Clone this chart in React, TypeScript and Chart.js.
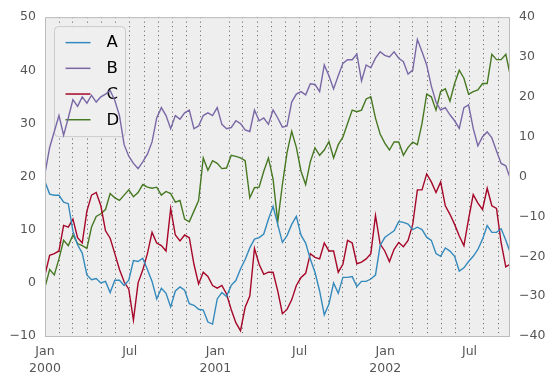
import React, { useEffect, useRef } from 'react';
import { Chart, registerables } from 'chart.js';

Chart.register(...registerables);

// Day offsets from 2000-01-01 (sampled every 10 days, last point = day 999)
const DAYS: number[] = [
  0, 10, 20, 30, 40, 50, 60, 70, 80, 90,
  100, 110, 120, 130, 140, 150, 160, 170, 180, 190,
  200, 210, 220, 230, 240, 250, 260, 270, 280, 290,
  300, 310, 320, 330, 340, 350, 360, 370, 380, 390,
  400, 410, 420, 430, 440, 450, 460, 470, 480, 490,
  500, 510, 520, 530, 540, 550, 560, 570, 580, 590,
  600, 610, 620, 630, 640, 650, 660, 670, 680, 690,
  700, 710, 720, 730, 740, 750, 760, 770, 780, 790,
  800, 810, 820, 830, 840, 850, 860, 870, 880, 890,
  900, 910, 920, 930, 940, 950, 960, 970, 980, 990,
  999,
];

// Series A (right axis)
const SERIES_A: number[] = [
  -1.3, -4.4, -4.7, -4.7, -6.4, -6.8, -13.7, -17.1, -19.2, -24.7,
  -25.9, -25.6, -26.7, -26.3, -29.1, -26.0, -26.0, -27.3, -26.0, -21.1,
  -21.3, -20.5, -23.3, -26.3, -30.7, -28.0, -29.3, -32.7, -28.7, -27.7,
  -28.5, -31.9, -32.3, -33.3, -33.5, -36.5, -37.0, -30.7, -29.1, -30.1,
  -27.3, -26.1, -23.2, -20.8, -17.9, -15.7, -15.3, -14.4, -10.7, -7.5,
  -12.0, -16.5, -14.8, -12.0, -10.0, -14.7, -16.7, -20.7, -24.0, -28.7,
  -34.7, -32.0, -26.7, -29.3, -25.3, -25.3, -25.1, -27.6, -26.3, -26.3,
  -25.7, -24.7, -17.3, -15.3, -14.4, -13.6, -11.3, -11.5, -11.9, -13.3,
  -12.7, -13.3, -15.2, -16.0, -19.3, -20.0, -17.9, -18.7, -20.0, -23.7,
  -22.9, -21.3, -20.0, -18.3, -15.7, -12.3, -14.0, -14.0, -13.1, -16.0,
  -18.9,
];

// Series B (right axis)
const SERIES_B: number[] = [
  0.8, 7.3, 11.3, 15.3, 10.4, 14.7, 19.3, 17.6, 20.0, 18.4,
  20.4, 18.7, 20.0, 20.7, 21.6, 19.1, 15.3, 8.0, 5.1, 3.3,
  2.0, 3.7, 5.6, 8.7, 14.7, 17.3, 15.3, 12.0, 15.3, 14.4,
  16.0, 16.7, 12.0, 12.7, 15.3, 16.0, 15.3, 17.3, 13.1, 12.0,
  12.3, 14.0, 13.3, 11.7, 11.3, 16.7, 14.0, 14.7, 13.1, 16.7,
  14.7, 12.4, 12.7, 18.7, 20.7, 21.3, 20.5, 23.3, 23.1, 21.3,
  28.0, 25.3, 22.0, 25.3, 28.4, 29.3, 29.3, 30.7, 24.0, 28.0,
  27.3, 29.7, 31.3, 30.4, 30.0, 31.3, 29.7, 28.8, 25.7, 26.7,
  34.4, 31.3, 28.0, 22.7, 18.7, 16.7, 17.3, 15.5, 14.0, 12.1,
  17.3, 18.0, 12.1, 7.7, 10.0, 11.2, 9.7, 6.4, 3.3, 2.7,
  -0.3,
];

// Series C (left axis)
const SERIES_C: number[] = [
  1.5, 5.2, 5.5, 6.0, 10.8, 10.5, 12.0, 8.5, 7.5, 13.5,
  16.5, 17.0, 14.5, 9.8, 8.4, 5.5, 2.5, 0.2, -1.2, -7.0,
  0.0, 2.4, 5.5, 9.5, 7.5, 7.0, 6.0, 14.0, 9.0, 7.9,
  9.0, 8.5, 3.5, -0.2, 2.0, 1.2, -0.5, -1.0, -0.5, -2.1,
  -5.0, -7.5, -9.0, -4.6, -2.5, 6.5, 3.5, 1.6, 2.0, 2.0,
  -1.5, -5.8, -5.0, -3.2, -0.5, 1.0, 1.8, 5.5, 4.8, 4.5,
  7.5, 6.0, 6.0, 2.0, 3.5, 8.0, 7.5, 3.6, 3.9, 4.5,
  5.5, 12.7, 7.3, 6.0, 4.0, 6.3, 7.6, 6.8, 8.0, 11.0,
  17.5, 17.5, 20.5, 19.0, 17.0, 19.0, 14.5, 12.9, 11.0, 8.8,
  7.0, 12.0, 16.6, 15.0, 13.8, 17.8, 14.5, 14.0, 7.5, 3.0,
  3.5,
];

// Series D (left axis)
const SERIES_D: number[] = [
  -0.8, 2.5, 1.5, 4.5, 8.0, 7.0, 9.0, 7.4, 7.0, 6.5,
  10.5, 12.5, 13.0, 13.8, 16.8, 16.0, 15.5, 16.5, 17.5, 16.2,
  17.0, 18.5, 18.0, 17.8, 18.0, 16.5, 17.2, 16.8, 15.2, 15.5,
  12.0, 11.5, 13.5, 15.5, 23.5, 21.2, 23.0, 22.5, 21.5, 21.6,
  24.0, 23.8, 23.5, 23.0, 16.0, 17.9, 18.0, 21.0, 23.5, 19.5,
  11.5, 18.5, 24.5, 28.5, 25.5, 21.0, 18.5, 22.8, 25.4, 24.0,
  25.0, 26.6, 23.5, 26.0, 27.4, 30.0, 32.5, 32.2, 32.5, 34.6,
  35.0, 31.0, 28.0, 26.3, 25.0, 26.5, 26.5, 24.0, 25.5, 26.5,
  26.0, 30.0, 35.5, 35.0, 32.5, 36.0, 36.5, 34.2, 37.5, 40.0,
  38.5, 35.5, 36.0, 36.3, 37.5, 37.5, 43.0, 42.0, 42.0, 43.0,
  39.3,
];

const SERIES_NAMES = ['A', 'B', 'C', 'D'];
const SERIES_COLORS = ['#348ABD', '#7A68A6', '#A60628', '#467821'];

// Month starts (Jan 2000 .. Sep 2002) and labelled major months
const MONTH_COUNT = 33;
const LABELLED_MONTHS: { [month: number]: string | string[] } = {
  0: ['Jan', '2000'],
  6: 'Jul',
  12: ['Jan', '2001'],
  18: 'Jul',
  24: ['Jan', '2002'],
  30: 'Jul',
};

const FONT = 'DejaVu Sans';

function monthDay(m: number): number {
  return Math.round((Date.UTC(2000, m, 1) - Date.UTC(2000, 0, 1)) / 86400000);
}

const MONTH_TICKS: number[] = Array.from({ length: MONTH_COUNT }, (_, m) => monthDay(m));
const JAN_TICKS = new Set(MONTH_TICKS.filter((_, m) => m % 12 === 0));
const TICK_LABELS = new Map<number, string | string[]>();
Object.keys(LABELLED_MONTHS).forEach((k) => {
  const m = Number(k);
  TICK_LABELS.set(monthDay(m), LABELLED_MONTHS[m]);
});

function fmt(v: number): string {
  return v < 0 ? '\u2212' + Math.abs(v) : String(v);
}

const bgPlugin = {
  id: 'plotBg',
  beforeDraw(chart: any) {
    const { ctx, chartArea: a } = chart;
    ctx.save();
    ctx.fillStyle = '#EEEEEE';
    ctx.fillRect(a.left, a.top, a.right - a.left, a.bottom - a.top);
    ctx.restore();
  },
  afterDatasetsDraw(chart: any) {
    const { ctx, chartArea: a } = chart;
    ctx.save();
    ctx.strokeStyle = '#BCBCBC';
    ctx.lineWidth = 1;
    ctx.strokeRect(a.left + 0.5, a.top + 0.5, a.right - a.left - 1, a.bottom - a.top);
    ctx.restore();
  },
};

const legendPlugin = {
  id: 'boxLegend',
  beforeDatasetsDraw(chart: any) {
    const { ctx, chartArea: a } = chart;
    const x0 = a.left + 9.5;
    const y0 = a.top + 9.5;
    const w = 71;
    const h = 110;
    const r = 4;
    ctx.save();
    ctx.beginPath();
    ctx.moveTo(x0 + r, y0);
    ctx.lineTo(x0 + w - r, y0);
    ctx.arcTo(x0 + w, y0, x0 + w, y0 + r, r);
    ctx.lineTo(x0 + w, y0 + h - r);
    ctx.arcTo(x0 + w, y0 + h, x0 + w - r, y0 + h, r);
    ctx.lineTo(x0 + r, y0 + h);
    ctx.arcTo(x0, y0 + h, x0, y0 + h - r, r);
    ctx.lineTo(x0, y0 + r);
    ctx.arcTo(x0, y0, x0 + r, y0, r);
    ctx.closePath();
    ctx.fillStyle = '#EFEFEF';
    ctx.fill();
    ctx.strokeStyle = '#CCCCCC';
    ctx.lineWidth = 1;
    ctx.stroke();
    chart.data.datasets.forEach((ds: any, i: number) => {
      const y = y0 + 16 + i * 25.7;
      ctx.beginPath();
      ctx.moveTo(x0 + 11, y);
      ctx.lineTo(x0 + 36, y);
      ctx.strokeStyle = ds.borderColor;
      ctx.lineWidth = 1.5;
      ctx.stroke();
      ctx.fillStyle = '#000000';
      ctx.font = `16.5px "${FONT}"`;
      ctx.textBaseline = 'middle';
      ctx.textAlign = 'left';
      ctx.fillText(ds.label, x0 + 52, y + 0.5);
    });
    ctx.restore();
  },
};

export default function App() {
  const canvasRef = useRef<HTMLCanvasElement | null>(null);

  useEffect(() => {
    document.body.style.margin = '0';
    const canvas = canvasRef.current;
    if (!canvas) return;
    const seriesValues = [SERIES_A, SERIES_B, SERIES_C, SERIES_D];
    const axisIds = ['y2', 'y2', 'y', 'y'];
    const datasets = seriesValues.map((vals, i) => ({
      label: SERIES_NAMES[i],
      data: vals.map((v, j) => ({ x: DAYS[j], y: v })),
      borderColor: SERIES_COLORS[i],
      backgroundColor: SERIES_COLORS[i],
      borderWidth: 1.4,
      pointRadius: 0,
      tension: 0,
      fill: false,
      yAxisID: axisIds[i],
    }));

    const tickFont = { family: FONT, size: 12.5, lineHeight: 1.3 };

    const chart = new Chart(canvas, {
      type: 'line',
      data: { datasets },
      plugins: [bgPlugin, legendPlugin],
      options: {
        animation: false,
        responsive: false,
        maintainAspectRatio: false,
        layout: { padding: { top: 16, left: 0, right: 0, bottom: 0 } },
        plugins: { legend: { display: false }, tooltip: { enabled: false } },
        scales: {
          x: {
            type: 'linear',
            min: 0,
            max: 999,
            afterBuildTicks: (s: any) => {
              s.ticks = MONTH_TICKS.map((v) => ({ value: v }));
            },
            afterFit: (s: any) => {
              s.height = 49;
            },
            grid: {
              drawTicks: false,
              lineWidth: 1,
              color: (c: any) =>
                c.tick && JAN_TICKS.has(c.tick.value) ? 'rgba(0,0,0,0)' : 'rgba(40,40,40,0.75)',
            },
            border: { display: false, dash: [1, 3.5] },
            ticks: {
              autoSkip: false,
              maxRotation: 0,
              minRotation: 0,
              padding: 8,
              color: '#555555',
              font: tickFont,
              callback: (v: any) => TICK_LABELS.get(Number(v)) ?? '',
            },
          },
          y: {
            type: 'linear',
            position: 'left',
            min: -10,
            max: 50,
            afterFit: (s: any) => {
              s.width = 45;
            },
            grid: { display: false, drawTicks: false },
            border: { display: false },
            ticks: {
              stepSize: 10,
              padding: 9,
              color: '#555555',
              font: tickFont,
              callback: (v: any) => fmt(Number(v)),
            },
          },
          y2: {
            type: 'linear',
            position: 'right',
            min: -40,
            max: 40,
            afterFit: (s: any) => {
              s.width = 45;
            },
            grid: { display: false, drawTicks: false },
            border: { display: false },
            ticks: {
              stepSize: 10,
              padding: 9,
              color: '#555555',
              font: tickFont,
              callback: (v: any) => fmt(Number(v)),
            },
          },
        },
      },
    } as any);

    return () => {
      chart.destroy();
    };
  }, []);

  return (
    <div style={{ width: 555, height: 385 }}>
      <canvas ref={canvasRef} width={555} height={385} style={{ width: 555, height: 385, display: 'block' }} />
    </div>
  );
}
